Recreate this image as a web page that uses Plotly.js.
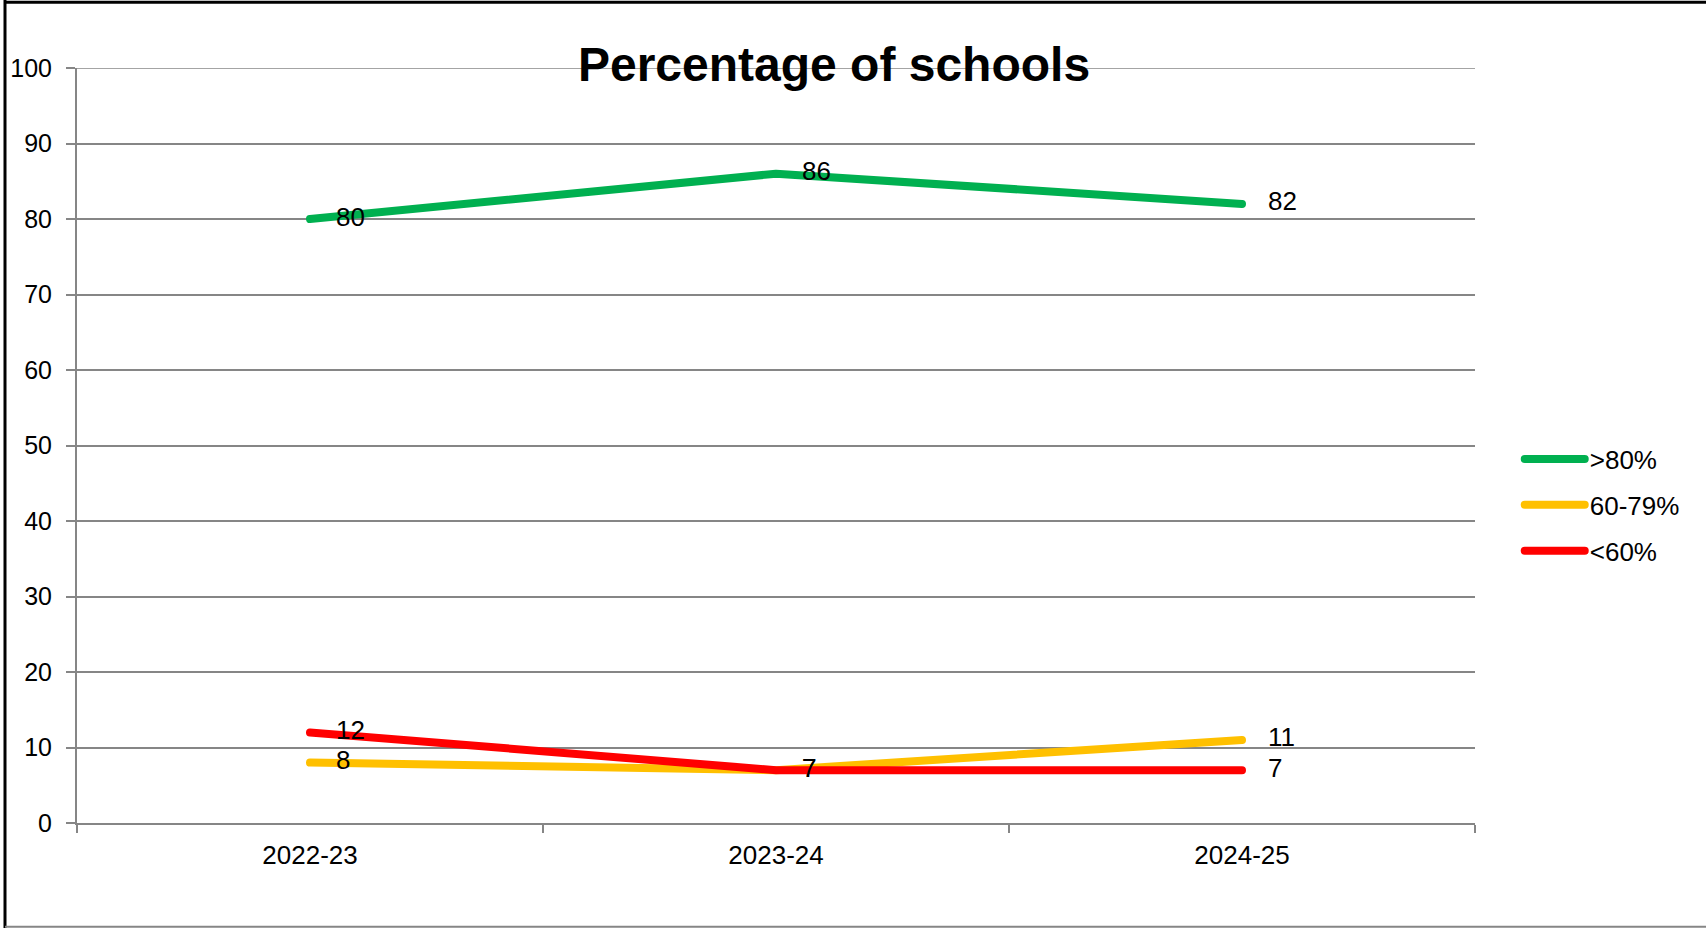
<!DOCTYPE html>
<html>
<head>
<meta charset="utf-8">
<script src="https://cdn.plot.ly/plotly-3.0.1.min.js"></script>
<style>
html,body{margin:0;padding:0;background:#fff;}
#chart{width:1706px;height:928px;}
#chart .scatterlayer .js-line, #chart .legendlines path { stroke-linecap: round !important; stroke-linejoin: round !important; }
</style>
</head>
<body>
<div id="chart"></div>
<script>
const categories = ["2022-23", "2023-24", "2024-25"];
const seriesNames = [">80%", "60-79%", "<60%"];
const above80 = [80, 86, 82];
const from60to79 = [8, 7, 11];
const below60 = [12, 7, 7];
const yTicks = [0, 10, 20, 30, 40, 50, 60, 70, 80, 90, 100];

const colors = ["#00B050", "#FFC000", "#FF0000"];
const values = [above80, from60to79, below60];
const font = "Liberation Sans, Arial, sans-serif";

const traces = values.map((v, i) => ({
  type: "scatter",
  mode: "lines+markers+text",
  x: categories,
  y: v,
  name: seriesNames[i],
  legendgroup: "g" + i,
  text: v.map(String),
  textposition: "middle right",
  textfont: {family: font, size: 26, color: "#000"},
  line: {color: colors[i], width: 8, shape: "linear"},
  marker: {size: 40, opacity: 0, color: "rgba(0,0,0,0)", line: {width: 0}},
  cliponaxis: false,
  hoverinfo: "x+y+name"
}));

const layout = {
  width: 1706,
  height: 928,
  margin: {l: 77, r: 231, t: 68, b: 105},
  paper_bgcolor: "#fff",
  plot_bgcolor: "#fff",
  font: {family: font, size: 26, color: "#000"},
  title: {
    text: "<b>Percentage of schools</b>",
    font: {family: font, size: 48, color: "#000"},
    xref: "container", yref: "container",
    x: 834 / 1706, xanchor: "center",
    y: 1 - 64 / 928, yanchor: "middle"
  },
  showlegend: true,
  legend: {
    x: 1.032, xanchor: "left",
    y: 0.421, yanchor: "middle",
    font: {family: font, size: 26, color: "#000"},
    traceorder: "grouped",
    tracegroupgap: 9,
    itemwidth: 60,
    bgcolor: "rgba(0,0,0,0)"
  },
  xaxis: {
    type: "category",
    categoryarray: categories,
    range: [-0.5, 2.5],
    showgrid: false,
    zeroline: false,
    showline: true,
    linecolor: "#868686",
    linewidth: 2,
    ticks: "outside",
    tickson: "boundaries",
    ticklen: 8,
    tickwidth: 2,
    tickcolor: "#868686",
    tickfont: {family: font, size: 26, color: "#000"},
    ticklabelstandoff: 8
  },
  yaxis: {
    range: [0, 100],
    tickvals: yTicks,
    ticktext: yTicks.map(String),
    showgrid: true,
    gridcolor: "#868686",
    gridwidth: 1.5,
    zeroline: false,
    showline: true,
    linecolor: "#868686",
    linewidth: 2,
    ticks: "outside",
    ticklen: 9,
    tickwidth: 2,
    tickcolor: "#868686",
    tickfont: {family: font, size: 25, color: "#000"},
    ticklabelstandoff: 9
  },
  shapes: [
    {type: "line", xref: "paper", yref: "y", x0: 0, x1: 1, y0: 100, y1: 100, layer: "below", line: {color: "#868686", width: 1.5}},
    {type: "line", xref: "paper", yref: "paper", x0: -0.0515, x1: -0.0515, y0: -0.14, y1: 1.09, line: {color: "#000", width: 3}},
    {type: "line", xref: "paper", yref: "paper", x0: -0.0515, x1: 1.3, y0: 1.087, y1: 1.087, line: {color: "#000", width: 3}},
    {type: "line", xref: "paper", yref: "paper", x0: -0.0515, x1: 1.3, y0: -0.1375, y1: -0.1375, line: {color: "#868686", width: 2}}
  ]
};

Plotly.newPlot("chart", traces, layout, {displayModeBar: false, responsive: false});
</script>
</body>
</html>
